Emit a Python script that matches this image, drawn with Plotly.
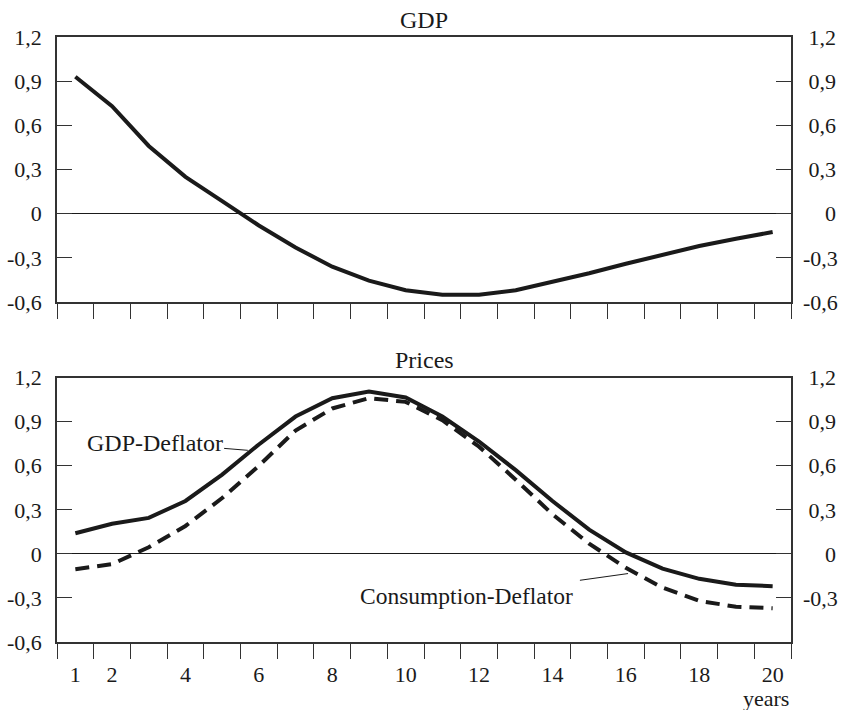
import plotly.graph_objects as go

years = list(range(1, 21))
gdp = [0.93, 0.73, 0.46, 0.25, 0.085, -0.08, -0.23, -0.36, -0.455, -0.52,
       -0.55, -0.55, -0.52, -0.465, -0.405, -0.34, -0.28, -0.22, -0.17, -0.125]
gdp_deflator = [0.14, 0.205, 0.245, 0.36, 0.54, 0.745, 0.935, 1.06, 1.105, 1.065,
                0.935, 0.765, 0.57, 0.36, 0.165, 0.01, -0.1, -0.17, -0.21, -0.22]
cons_deflator = [-0.105, -0.07, 0.045, 0.19, 0.38, 0.6, 0.84, 0.99, 1.06, 1.035,
                 0.91, 0.73, 0.505, 0.27, 0.07, -0.095, -0.23, -0.32, -0.36, -0.37]

ytick_vals = [-0.6, -0.3, 0, 0.3, 0.6, 0.9, 1.2]
ytick_text = ["-0,6", "-0,3", "0", "0,3", "0,6", "0,9", "1,2"]
ytick_text_right_top = ["-0,6", "-0,3", "    0", " 0,3", " 0,6", " 0,9", " 1,2"]
ytick_text_right_bottom = ["", "-0,3", "    0", " 0,3", " 0,6", " 0,9", " 1,2"]
xtick_vals = [1, 2, 4, 6, 8, 10, 12, 14, 16, 18, 20]
xtick_text = [str(v) for v in xtick_vals]
x_boundaries = [i + 0.5 for i in range(0, 21)]

FONT = "Liberation Serif"
INK = "#1a1a1a"
AX = "#333333"

fig = go.Figure()
fig.add_trace(go.Scatter(x=years, y=gdp, mode="lines", line=dict(color=INK, width=4),
                         xaxis="x", yaxis="y", showlegend=False, hoverinfo="skip"))
fig.add_trace(go.Scatter(x=years, y=gdp_deflator, mode="lines", line=dict(color=INK, width=4),
                         xaxis="x2", yaxis="y2", showlegend=False, hoverinfo="skip"))
fig.add_trace(go.Scatter(x=years, y=cons_deflator, mode="lines",
                         line=dict(color=INK, width=4, dash="14px,8px"),
                         xaxis="x2", yaxis="y2", showlegend=False, hoverinfo="skip"))
# empty traces so the right-hand label axes are drawn
fig.add_trace(go.Scatter(x=[None], y=[None], mode="lines", xaxis="x", yaxis="y3",
                         showlegend=False, hoverinfo="skip"))
fig.add_trace(go.Scatter(x=[None], y=[None], mode="lines", xaxis="x2", yaxis="y4",
                         showlegend=False, hoverinfo="skip"))

yrange = [-0.6, 1.2]
xrange = [0.5, 20.5]

def xaxis_cfg(anchor, labels):
    d = dict(range=xrange, anchor=anchor, showline=True, linecolor=AX, linewidth=1.5,
             mirror=True, showgrid=False, zeroline=False, automargin=False,
             minor=dict(tickmode="array", tickvals=x_boundaries, ticks="outside",
                        ticklen=15, tickwidth=1, tickcolor=AX, showgrid=False),
             tickfont=dict(family=FONT, size=22, color=INK))
    if labels:
        d.update(tickmode="array", tickvals=xtick_vals, ticktext=xtick_text, ticks="",
                 ticklabelstandoff=12)
    else:
        d.update(tickmode="array", tickvals=xtick_vals, showticklabels=False, ticks="")
    return d

def yaxis_left(anchor, domain):
    return dict(range=yrange, domain=domain, anchor=anchor, tickmode="array",
                tickvals=ytick_vals, ticktext=ytick_text, ticks="inside", ticklen=15,
                tickwidth=1, tickcolor=AX, showline=True, linecolor=AX, linewidth=1.5,
                mirror=True, showgrid=False, zeroline=True, zerolinecolor=INK,
                zerolinewidth=1, ticklabelstandoff=9, automargin=False,
                tickfont=dict(family=FONT, size=22, color=INK))

def yaxis_right(anchor, over, labels):
    return dict(range=yrange, overlaying=over, anchor=anchor, side="right",
                tickmode="array", tickvals=ytick_vals, ticktext=labels,
                ticks="inside", ticklen=15, tickwidth=1, tickcolor=AX,
                showline=False, showgrid=False, zeroline=False, ticklabelstandoff=11,
                automargin=False, tickfont=dict(family=FONT, size=22, color=INK))

fig.update_layout(
    width=843, height=710,
    margin=dict(l=57, r=52, t=37, b=68, autoexpand=False),
    paper_bgcolor="white", plot_bgcolor="white",
    xaxis=xaxis_cfg("y", False),
    xaxis2=xaxis_cfg("y2", True),
    yaxis=yaxis_left("x", [0.562, 1.0]),
    yaxis2=yaxis_left("x2", [0.0, 0.437]),
    yaxis3=yaxis_right("x", "y", ytick_text_right_top),
    yaxis4=yaxis_right("x2", "y2", ytick_text_right_bottom),
    font=dict(family=FONT, color=INK),
    annotations=[
        dict(text="GDP", xref="paper", yref="paper", x=0.5, y=1.028, showarrow=False,
             xanchor="center", yanchor="middle", font=dict(family=FONT, size=24, color=INK)),
        dict(text="Prices", xref="paper", yref="paper", x=0.5, y=0.466, showarrow=False,
             xanchor="center", yanchor="middle", font=dict(family=FONT, size=24, color=INK)),
        dict(text="years", xref="paper", yref="paper", x=1.0, y=-0.094, showarrow=False,
             xanchor="right", yanchor="middle", font=dict(family=FONT, size=22, color=INK)),
        dict(text="GDP-Deflator", xref="x2", yref="y2", x=5.7, y=0.705,
             axref="x2", ayref="y2", ax=3.16, ay=0.757, showarrow=True, arrowhead=0,
             arrowwidth=1, arrowcolor=INK, font=dict(family=FONT, size=24, color=INK)),
        dict(text="Consumption-Deflator", xref="x2", yref="y2", x=16.06, y=-0.134,
             axref="x2", ayref="y2", ax=11.655, ay=-0.288, showarrow=True, arrowhead=0,
             arrowwidth=1, arrowcolor=INK, startstandoff=10,
             font=dict(family=FONT, size=23.5, color=INK)),
    ],
)

fig.write_html("out.html", config={"displayModeBar": False},
               post_script="document.body.style.margin='0';")
